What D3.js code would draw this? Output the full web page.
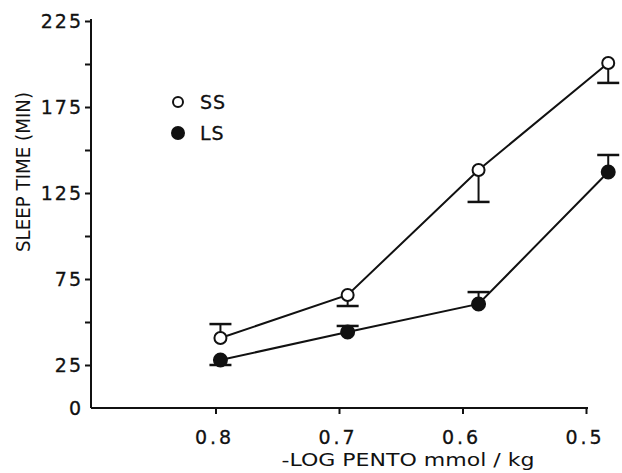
<!DOCTYPE html>
<html>
<head>
<meta charset="utf-8">
<script src="https://cdn.jsdelivr.net/npm/d3@7"></script>
<style>
  body { margin: 0; background: #fff; }
  svg text { font-family: "DejaVu Sans", "Liberation Sans", sans-serif; fill: #111; }
</style>
</head>
<body>
<div id="chart"></div>
<script>
// dose tick labels and where the points sit along the dose axis
let doseTicks = [0.8, 0.7, 0.6, 0.5];
let doseX = [0.796, 0.693, 0.587, 0.482];
let yTicks = [25, 50, 75, 100, 125, 150, 175, 200, 225];
let yLabels = [0, 25, 75, 125, 175, 225];

// sleep time (min), mean and end of the error bar
let ssMean = [40.7, 65.7, 138.4, 200.6];
let ssErr = [48.8, 59.3, 119.8, 189.0];
let lsMean = [27.9, 44.2, 60.5, 137.2];
let lsErr = [25.0, 47.7, 67.4, 147.1];

let width = 622;
let height = 473;
let ink = "#111";

let svg = d3
  .select("#chart")
  .append("svg")
  .attr("width", width)
  .attr("height", height);

let x = d3.scaleLinear().domain([0.9, 0.5]).range([92, 586]);
let y = d3.scaleLinear().domain([0, 225]).range([408, 21]);

// y axis
let yAxis = d3
  .axisLeft(y)
  .tickValues(yTicks)
  .tickSize(6)
  .tickFormat("");
let gy = svg.append("g").attr("transform", "translate(91,0)").call(yAxis);
gy.select(".domain").attr("d", "M0," + y(0) + "V" + (y(225) - 2));
gy.selectAll("path, line").attr("stroke", ink).attr("stroke-width", 2);

// y tick labels
svg
  .selectAll(".ylab")
  .data(yLabels)
  .enter()
  .append("text")
  .attr("class", "ylab")
  .attr("x", 83)
  .attr("y", (d) => y(d))
  .attr("dy", "0.36em")
  .attr("text-anchor", "end")
  .attr("font-size", 19)
  .attr("letter-spacing", 2)
  .style("stroke", ink)
  .style("stroke-width", 0.3)
  .text((d) => d);

// x axis
let xAxis = d3.axisBottom(x).tickValues(doseTicks).tickSize(6).tickFormat("");
let gx = svg
  .append("g")
  .attr("transform", "translate(0," + y(0) + ")")
  .call(xAxis);
gx.select(".domain").attr("d", "M91,0H588");
gx.selectAll("path, line").attr("stroke", ink).attr("stroke-width", 2);

svg
  .selectAll(".xlab")
  .data(doseTicks)
  .enter()
  .append("text")
  .attr("class", "xlab")
  .attr("x", (d) => x(d) - 1)
  .attr("y", 437)
  .attr("dy", "0.36em")
  .attr("text-anchor", "middle")
  .attr("font-size", 19)
  .attr("letter-spacing", 3)
  .style("stroke", ink)
  .style("stroke-width", 0.3)
  .text((d) => d.toFixed(1));

// axis titles
svg
  .append("text")
  .attr("x", 408)
  .attr("y", 460)
  .attr("dy", "0.36em")
  .attr("text-anchor", "middle")
  .attr("font-size", 17)
  .attr("textLength", 253)
  .attr("lengthAdjust", "spacingAndGlyphs")
  .text("-LOG PENTO  mmol / kg");

svg
  .append("text")
  .attr("transform", "translate(23,172) rotate(-90)")
  .attr("dy", "0.36em")
  .attr("text-anchor", "middle")
  .attr("font-family", "Liberation Sans, sans-serif")
  .attr("font-size", 20)
  .attr("textLength", 160)
  .attr("lengthAdjust", "spacingAndGlyphs")
  .text("SLEEP TIME (MIN)");

// series
let series = [
  { name: "SS", mean: ssMean, err: ssErr, fill: "#fff", r: 6 },
  { name: "LS", mean: lsMean, err: lsErr, fill: ink, r: 6.5 },
];

let line = d3
  .line()
  .x((d) => x(d[0]))
  .y((d) => y(d[1]));

series.forEach(function (s) {
  let pts = doseX.map((dx, i) => [dx, s.mean[i], s.err[i]]);

  svg
    .append("path")
    .attr("d", line(pts))
    .attr("fill", "none")
    .attr("stroke", ink)
    .attr("stroke-width", 2);

  // error bars with caps
  let eb = svg.append("g").selectAll("g").data(pts).enter().append("g");
  eb.append("line")
    .attr("x1", (d) => x(d[0]))
    .attr("x2", (d) => x(d[0]))
    .attr("y1", (d) => y(d[1]))
    .attr("y2", (d) => y(d[2]))
    .attr("stroke", ink)
    .attr("stroke-width", 2);
  eb.append("line")
    .attr("x1", (d) => x(d[0]) - 11)
    .attr("x2", (d) => x(d[0]) + 11)
    .attr("y1", (d) => y(d[2]))
    .attr("y2", (d) => y(d[2]))
    .attr("stroke", ink)
    .attr("stroke-width", 2.5);

  svg
    .append("g")
    .selectAll("circle")
    .data(pts)
    .enter()
    .append("circle")
    .attr("cx", (d) => x(d[0]))
    .attr("cy", (d) => y(d[1]))
    .attr("r", s.r)
    .attr("fill", s.fill)
    .attr("stroke", ink)
    .attr("stroke-width", 2);
});

// legend
let legend = svg
  .append("g")
  .selectAll("g")
  .data(series)
  .enter()
  .append("g")
  .attr("transform", (d, i) => "translate(178," + (102 + i * 31) + ")");
legend
  .append("circle")
  .attr("r", (d) => (d.name === "SS" ? 5 : 6))
  .attr("fill", (d) => d.fill)
  .attr("stroke", ink)
  .attr("stroke-width", 2);
legend
  .append("text")
  .attr("x", 22)
  .attr("dy", "0.36em")
  .attr("font-size", 19)
  .attr("letter-spacing", 1)
  .style("stroke", ink)
  .style("stroke-width", 0.3)
  .text((d) => d.name);
</script>
</body>
</html>
